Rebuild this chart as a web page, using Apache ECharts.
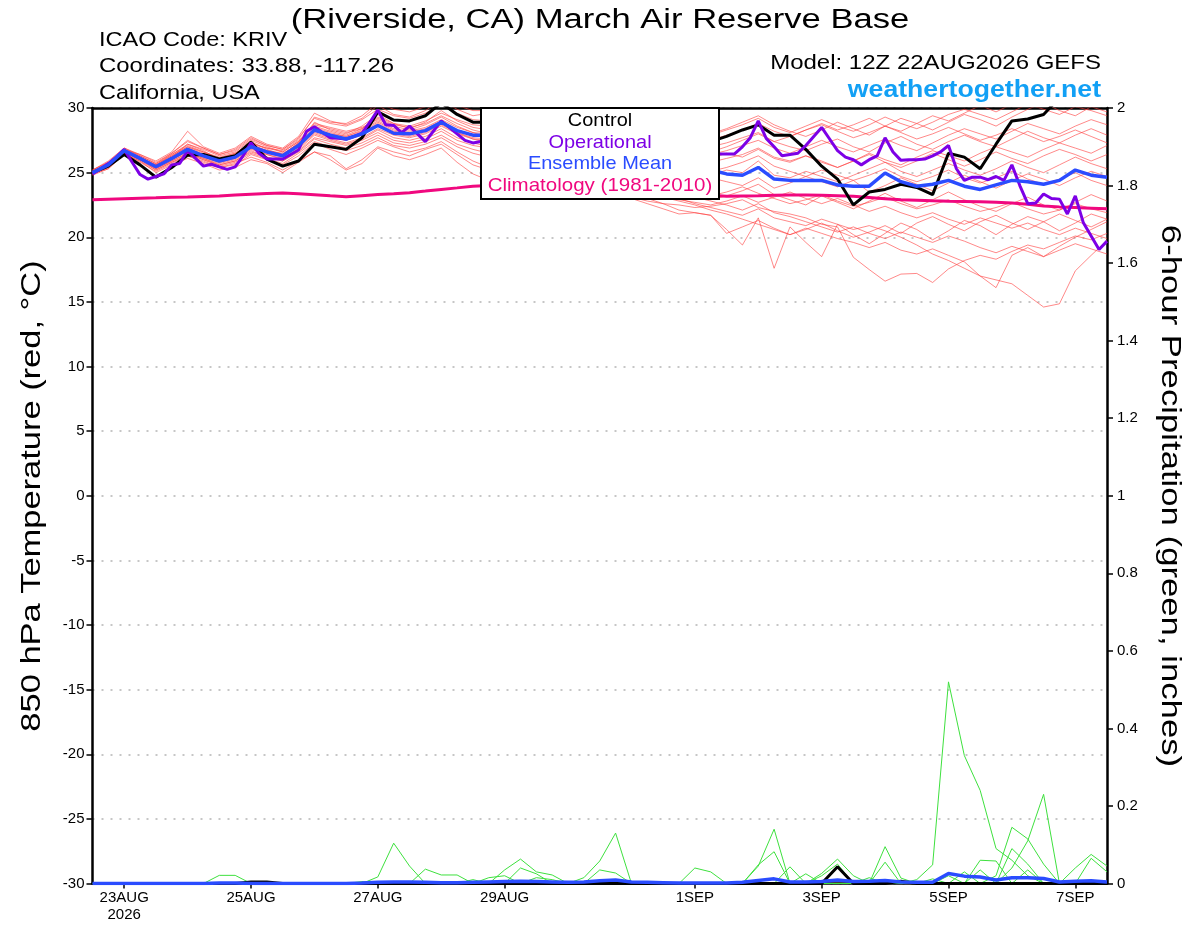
<!DOCTYPE html>
<html>
<head>
<meta charset="utf-8">
<script src="https://cdn.jsdelivr.net/npm/echarts@6/dist/echarts.min.js"></script>
<style>
html,body{margin:0;padding:0;background:#fff;}
#chart{width:1200px;height:927px;}
</style>
</head>
<body>
<div id="chart"></div>
<script>
// ---------------- DATA ----------------
// 6-hourly steps from 12Z 22AUG2026 to 12Z 07SEP2026 (65 points)
const tickIndex = [2, 10, 18, 26, 38, 46, 54, 62];
const tickText = ['23AUG\n2026', '25AUG', '27AUG', '29AUG', '1SEP', '3SEP', '5SEP', '7SEP'];

const controlTemp = [25.0,25.5,26.4,25.6,24.65,25.4,26.35,26.4,26.05,26.3,
  27.35,26.05,25.5,25.9,27.2,27.0,26.8,27.7,29.7,29.07,
  29.0,29.4,30.4,29.5,28.9,28.9,29.2,29.6,29.9,29.5,
  29.0,28.6,28.9,29.3,28.8,28.4,28.0,27.8,27.5,27.4,
  27.8,28.3,28.7,27.9,27.9,26.8,25.5,24.5,22.5,23.5,
  23.7,24.1,23.85,23.3,26.5,26.2,25.3,27.2,29.0,29.15,
  29.5,30.8,31.2,31.5,31.8];

const meanTemp = [25.0,25.6,26.7,26.1,25.45,26.1,26.8,26.3,25.9,26.2,
  27.0,26.6,26.3,27.1,28.3,27.9,27.6,28.0,28.65,28.05,
  28.0,28.25,28.9,28.25,27.9,27.9,28.0,28.1,27.9,27.7,
  27.5,27.3,27.2,27.0,26.7,26.4,26.1,25.8,25.5,25.2,
  24.9,24.8,25.4,24.5,24.4,24.4,24.4,24.05,23.95,23.95,
  24.97,24.3,23.95,24.1,24.4,23.95,23.7,24.05,24.4,24.3,
  24.1,24.4,25.2,24.8,24.65];

const climoTemp = [22.9,22.94,22.98,23.02,23.05,23.09,23.12,23.16,23.2,23.26,
  23.32,23.38,23.43,23.36,23.29,23.21,23.14,23.22,23.3,23.37,
  23.45,23.57,23.7,23.82,23.95,24.0,24.05,24.1,24.1,24.08,
  24.05,24.0,23.95,23.88,23.8,23.7,23.6,23.48,23.36,23.24,
  23.18,23.2,23.22,23.25,23.27,23.26,23.24,23.22,23.18,23.08,
  22.98,22.9,22.86,22.82,22.79,22.77,22.75,22.7,22.65,22.55,
  22.42,22.35,22.3,22.25,22.2];

// Operational run is 3-hourly (129 points)
const operTemp = [24.9,25.3,25.7,26.2,26.8,25.8,24.85,24.5,24.7,24.9,
  25.6,25.7,26.7,26.1,25.5,25.65,25.45,25.25,25.45,26.3,
  27.3,26.5,26.05,26.05,26.05,26.4,26.75,28.2,28.55,28.1,
  27.7,27.65,27.6,27.8,28.05,28.9,29.85,28.7,28.65,28.1,
  28.6,28.0,27.4,28.2,29.0,28.5,28.0,27.5,27.3,27.4,
  27.6,27.9,28.3,28.0,27.6,27.2,27.5,28.0,28.4,28.1,
  27.7,27.3,27.0,27.4,27.9,28.2,27.8,27.4,27.1,26.8,
  27.2,27.6,27.3,26.9,26.6,26.9,27.2,26.8,26.5,26.45,
  26.45,26.45,27.0,27.7,29.0,27.65,27.0,26.3,26.4,26.5,
  27.1,27.8,28.5,27.6,26.7,26.2,26.0,25.6,26.0,26.3,
  27.7,26.6,25.95,26.0,26.0,26.05,26.3,26.6,27.1,25.3,
  24.4,24.65,24.65,24.45,24.7,24.4,25.6,24.0,22.6,22.65,
  23.35,23.0,22.95,21.8,23.2,21.15,20.1,19.05,19.7];

const memberTemps = [
 [25.2,25.8,26.8,26.4,25.9,26.6,28.2,27.0,26.5,26.9,27.8,27.2,26.9,27.8, 29.6,29.0,28.7,29.2,30.2,29.5,29.3,29.8,30.6,29.9,29.4,29.6, 29.9,30.3,29.8,29.4,29.0,28.7,28.9,28.5,28.1,27.8,27.5,27.9,28.3,28.0, 28.4,28.9,29.4,28.7,28.2,27.8,28.3,28.9,28.4,27.9,28.6,29.2,28.8,28.3,28.9,29.5,29.1,28.6,29.3,29.9,30.4,29.8,29.4,30.1,29.7],
 [25.0,25.5,26.6,26.0,25.3,25.9,26.5,26.1,25.6,25.9,26.7,26.2,25.9,26.6, 27.6,27.2,26.9,27.3,27.9,27.3,27.1,27.4,27.9,27.2,26.8,26.5, 26.3,26.0,25.6,25.2,24.8,24.3,23.9,23.5,23.0,22.6,22.2,21.8,21.9,21.7, 20.6,19.4,21.5,17.6,20.8,19.6,18.5,21.0,20.2,19.5,20.3,21.1,20.6,19.8,20.5,21.3,20.9,20.2,21.0,21.6,21.2,20.5,21.1,21.8,21.4],
 [24.9,25.4,26.5,25.8,25.1,25.7,26.3,25.8,25.4,25.6,26.4,26.0,25.6,26.3, 27.3,26.8,26.4,26.9,27.5,27.0,26.6,26.9,27.4,26.6,25.9,25.4, 25.1,24.8,24.5,24.3,24.0,23.8,23.5,23.3,23.1,22.8,22.6,22.5,22.3,22.4, 22.6,22.9,22.3,22.0,21.8,21.5,21.0,20.8,18.45,17.5,16.6,17.15,17.2,16.5,17.55,18.2,18.6,18.3,18.9,19.4,19.1,19.6,20.1,19.8,20.3],
 [25.1,25.7,26.7,26.2,25.6,26.3,27.0,26.6,26.1,26.5,27.3,26.9,26.6,27.4, 28.6,28.2,27.9,28.4,29.2,28.7,28.5,28.8,29.4,28.8,28.3,28.0, 27.8,27.5,27.0,26.6,26.1,25.7,25.2,24.8,24.3,23.9,23.4,23.0,22.6,22.3, 22.0,21.7,22.2,21.5,21.2,20.9,21.4,21.0,20.6,20.9,20.5,20.0,19.4,18.7,18.2,17.6,17.0,16.7,16.4,15.5,14.6,14.85,17.4,18.6,19.75],
 [24.8,25.3,26.5,25.9,25.0,25.6,26.1,25.7,25.2,25.4,26.0,25.7,25.0,25.8, 26.6,26.3,25.3,26.0,27.0,26.6,26.3,26.8,27.2,26.4,25.6,25.2, 25.4,25.7,25.3,25.0,25.2,24.8,24.5,24.1,23.8,23.4,23.1,22.8,22.5,22.1, 21.8,21.4,21.0,20.6,20.2,20.7,20.3,19.9,19.6,19.2,19.6,19.0,18.7,19.1,18.6,18.1,17.0,16.1,18.6,19.2,18.5,19.3,20.0,20.6,21.2],
 [25.0,25.6,26.8,26.2,25.5,26.2,27.2,26.7,26.0,26.4,27.4,26.8,26.4,27.3, 28.9,28.3,28.0,28.6,29.5,28.8,28.4,28.9,29.8,29.0,28.5,28.3, 28.6,28.9,28.4,28.0,27.7,27.9,28.2,27.8,27.4,27.1,27.4,27.7,27.3,27.0, 27.3,27.7,28.1,27.4,27.0,26.7,27.2,27.6,27.0,26.6,27.3,27.8,27.2,26.8,27.4,27.9,27.4,27.0,27.6,28.2,27.7,27.3,27.9,28.4,27.9],
 [25.1,25.7,26.6,26.1,25.6,26.4,27.1,26.6,26.2,26.5,27.2,26.9,26.7,27.5, 28.8,28.5,28.2,28.5,29.1,28.6,28.3,28.7,29.3,28.6,28.1,27.7, 27.5,27.9,28.3,27.9,27.6,27.2,27.0,26.8,26.5,26.3,26.0,26.4,26.9,26.6, 27.0,27.5,28.0,27.4,27.8,28.3,28.8,28.3,28.7,29.2,28.6,28.2,28.8,29.4,29.0,29.6,30.2,29.7,30.3,30.9,30.5,30.1,30.7,31.2,30.8],
 [24.9,25.3,26.4,25.9,25.2,25.8,26.3,25.9,25.4,25.7,26.2,25.8,25.2,25.9, 26.6,26.0,25.2,25.7,26.9,26.3,26.0,26.4,26.9,25.8,24.9,24.4, 24.6,25.0,24.8,24.5,24.2,24.5,24.8,24.4,24.1,23.8,23.5,23.8,23.4,23.2, 23.5,23.9,23.4,23.0,22.6,22.9,23.3,22.8,22.4,22.7,23.1,22.6,22.2,22.5,22.9,22.4,22.0,22.3,22.7,22.2,21.8,22.1,22.6,22.2,21.9],
 [25.0,25.6,26.6,26.0,25.4,26.0,26.7,26.2,25.8,26.1,26.9,26.4,26.1,26.9, 28.0,27.6,27.3,27.7,28.4,27.9,27.7,28.0,28.6,28.0,27.6,27.5, 27.6,27.4,27.0,26.7,26.4,26.1,25.9,25.6,25.4,25.2,25.0,24.8,24.6,24.8, 25.2,25.0,25.9,24.8,24.6,25.1,24.7,24.3,24.8,25.3,25.8,25.1,24.7,25.2,25.7,25.2,24.8,25.3,25.9,25.4,25.0,25.6,26.2,25.7,25.3],
 [25.2,25.8,26.9,26.3,25.7,26.5,27.5,26.9,26.4,26.8,27.7,27.1,26.8,27.6, 29.3,28.9,28.8,29.4,30.4,29.9,29.7,30.1,30.8,30.2,29.8,29.8, 30.2,30.5,30.1,29.6,29.2,28.8,28.4,28.0,27.6,27.3,27.0,26.7,26.4,26.1, 26.5,26.2,26.8,26.1,25.8,26.3,25.9,25.4,25.9,26.5,26.0,25.6,26.2,26.7,26.3,25.9,26.5,27.0,26.6,26.2,26.8,27.3,26.9,26.5,27.1],
 [24.9,25.5,26.7,26.1,25.4,26.0,26.6,26.1,25.7,26.0,26.8,26.4,26.0,26.8, 27.9,27.5,27.2,27.6,28.3,27.7,27.5,27.8,28.4,27.7,27.3,27.0, 26.8,26.5,26.1,25.7,25.4,25.0,24.7,24.4,24.1,23.8,23.5,23.3,23.1,22.9, 23.2,23.6,24.1,23.3,22.9,22.5,23.2,22.7,22.2,22.8,23.4,22.8,22.3,22.9,23.5,22.9,22.4,22.0,22.6,23.1,22.5,22.1,22.7,23.3,22.8],
 [25.0,25.5,26.6,26.1,25.5,26.2,26.9,26.4,25.9,26.3,27.1,26.7,26.5,27.2, 28.4,28.0,27.8,28.2,28.9,28.3,28.1,28.4,29.0,28.3,27.9,27.8, 28.0,28.3,27.9,27.6,27.2,26.9,26.6,26.3,26.0,25.7,25.4,25.1,24.8,24.6, 24.3,24.0,24.6,23.8,24.2,24.7,24.3,23.9,24.4,23.5,24.0,24.6,24.1,23.6,24.2,24.8,24.3,23.8,24.4,24.9,24.5,24.0,24.6,25.1,24.7],
 [25.1,25.6,26.7,26.2,25.6,26.3,27.0,26.5,26.0,26.4,27.2,26.7,26.4,27.3, 28.5,28.1,27.8,28.3,29.0,28.4,28.2,28.5,29.1,28.5,28.1,28.0, 28.3,28.6,28.2,27.8,27.5,27.7,28.0,27.6,27.3,27.6,27.9,27.5,27.2,27.5, 27.9,28.3,28.8,28.2,27.8,28.3,28.7,28.2,27.7,28.1,28.6,28.1,27.6,28.0,28.5,28.0,27.5,27.9,28.4,27.9,27.4,27.8,28.3,27.8,27.3],
 [25.0,25.5,26.6,26.0,25.4,26.0,26.7,26.2,25.8,26.1,26.9,26.5,26.2,27.0, 28.1,27.7,27.5,27.9,28.6,28.0,27.8,28.1,28.7,28.1,27.7,27.6, 27.8,27.5,27.1,26.7,26.3,25.9,25.5,25.1,24.7,24.3,23.9,23.5,23.1,22.8, 22.5,22.1,22.6,21.9,21.6,21.2,20.8,20.4,20.8,20.3,19.9,20.4,20.0,19.6,20.1,19.7,19.2,18.8,19.3,18.9,18.5,19.0,19.5,19.1,18.7],
 [25.1,25.7,26.8,26.3,25.7,26.4,27.2,26.8,26.3,26.6,27.5,27.0,26.6,27.4, 28.7,28.4,28.1,28.4,29.3,28.8,28.6,29.0,29.6,29.1,28.7,28.6, 28.8,29.1,28.7,28.4,28.0,28.2,28.5,28.1,27.8,28.0,28.3,28.0,27.7,27.9, 28.3,28.7,29.2,28.5,28.1,28.6,29.1,28.6,28.2,28.7,29.3,28.8,28.4,28.9,29.5,29.9,29.5,29.1,29.7,30.3,29.9,29.5,30.1,29.8,29.4],
 [24.9,25.5,26.6,26.0,25.3,25.9,26.5,26.0,25.6,25.9,26.6,26.2,25.9,26.7, 27.7,27.4,27.1,27.5,28.1,27.5,27.3,27.6,28.2,27.5,27.1,26.9, 27.1,27.4,27.0,26.7,26.4,26.6,26.9,26.5,26.2,25.9,26.2,26.5,26.1,25.8, 26.1,26.4,26.9,26.2,25.9,26.3,25.8,25.4,25.9,26.4,25.8,25.4,25.9,26.5,26.0,25.5,26.0,26.6,26.1,25.7,26.3,26.8,26.4,25.9,26.4],
 [25.0,25.6,26.7,26.1,25.5,26.1,26.8,26.3,25.9,26.2,27.0,26.6,26.3,27.1, 28.2,27.8,27.6,28.0,28.6,28.1,27.9,28.2,28.8,28.1,27.6,27.3, 27.0,26.6,26.1,25.7,25.3,24.9,24.5,24.1,23.6,23.0,22.6,22.1,21.9,21.7, 20.3,20.8,21.3,20.7,20.2,20.6,21.1,20.5,20.0,20.4,20.9,20.3,21.1,21.6,21.0,20.5,21.2,21.7,21.1,20.6,21.2,21.8,21.3,20.8,21.4],
 [25.2,25.9,26.9,26.4,25.8,26.5,27.4,26.9,26.4,26.7,27.6,27.1,26.8,27.7, 29.2,28.8,28.6,29.1,29.9,29.4,29.2,29.6,30.3,29.6,29.1,29.0, 29.2,29.5,29.1,28.7,28.3,28.6,28.9,28.5,28.1,27.7,27.4,27.0,26.7,26.4, 26.7,27.1,27.5,26.9,26.5,27.0,27.5,27.0,26.6,27.1,27.6,27.1,26.7,27.3,27.9,28.4,28.0,27.6,28.2,28.8,28.4,28.0,28.6,29.1,28.7],
 [24.9,25.4,26.5,26.0,25.2,25.8,26.4,26.0,25.5,25.8,26.5,26.1,25.7,26.5, 27.4,27.0,26.7,27.1,27.7,27.1,26.9,27.2,27.7,27.0,26.5,26.2, 26.0,25.7,25.3,25.0,24.7,24.4,24.1,23.8,23.5,23.3,23.1,22.9,22.7,22.5, 22.8,23.2,22.7,23.1,23.5,23.0,22.6,23.0,22.5,22.0,22.4,21.9,21.5,21.9,21.4,21.0,21.5,21.1,20.7,21.1,20.6,20.2,20.7,20.3,19.9],
 [25.1,25.7,26.7,26.2,25.5,26.2,26.9,26.4,26.0,26.3,27.1,26.7,26.4,27.2, 28.3,27.9,27.7,28.1,28.8,28.2,28.0,28.3,28.9,28.3,27.9,27.8, 27.9,27.7,27.4,27.1,26.8,26.5,26.2,25.9,25.6,25.4,25.2,25.0,24.9,25.1, 25.4,25.8,26.3,25.5,25.1,24.7,25.2,24.8,24.4,24.8,25.3,24.7,24.3,24.7,25.2,24.6,24.2,24.6,25.1,24.5,24.1,24.5,25.0,24.4,24.0]
];

// 6-hour precipitation (inches): [step index, amount] for steps with rain, zero elsewhere
const controlPrecipRain = [[10,0.004],[11,0.004],[47,0.043],[51,0.006]];
const meanPrecip = [0,0,0,0,0,0,0,0,0.001,0.001,
  0,0,0,0,0,0,0,0.001,0.003,0.004,
  0.004,0.003,0.002,0.002,0.003,0.004,0.005,0.006,0.005,0.004,
  0.003,0.004,0.007,0.009,0.004,0.003,0.002,0.001,0.001,0.001,
  0.001,0.003,0.008,0.012,0.004,0.004,0.005,0.009,0.005,0.006,
  0.008,0.004,0.003,0.003,0.026,0.019,0.017,0.009,0.015,0.015,
  0.013,0.004,0.006,0.007,0.004];
const memberPrecipRain = [
 [[38,0.04],[39,0.03],[52,0.01],[53,0.048],[54,0.52],[55,0.33],[56,0.24],[57,0.09],[58,0.06],[59,0.02]],
 [[42,0.045],[43,0.14],[57,0.02],[58,0.145],[59,0.115],[60,0.05]],
 [[58,0.09],[59,0.05],[62,0.04],[63,0.075],[64,0.045]],
 [[58,0.04],[59,0.11],[60,0.23],[63,0.065],[64,0.03]],
 [[18,0.017],[19,0.104],[20,0.045],[26,0.035],[27,0.063],[28,0.03],[29,0.022],[31,0.015],[32,0.058],[33,0.13]],
 [[8,0.021],[9,0.021],[21,0.037],[22,0.022],[23,0.022],[27,0.04],[28,0.025],[44,0.043],[46,0.026],[47,0.063],[48,0.02],[50,0.095],[51,0.014]],
 [[42,0.048],[43,0.082],[46,0.02],[47,0.05],[50,0.055],[54,0.02],[56,0.06],[57,0.058]],
 [[25,0.015],[26,0.02],[32,0.035],[33,0.027],[45,0.025],[53,0.012],[56,0.035]],
 [[17,0.005],[24,0.01],[28,0.015],[29,0.01],[49,0.015],[55,0.03],[59,0.035]]
];

// ---------------- BUILD ----------------
const FONT = '"Liberation Sans", Arial, Helvetica, sans-serif';
const N6 = controlTemp.length;
const N3 = operTemp.length;
const cat6 = []; for (let i = 0; i < N6; i++) cat6.push(String(i * 6));
const cat3 = []; for (let i = 0; i < N3; i++) cat3.push(String(i * 3));
function rainSeries(pairs) {
  const a = new Array(N6).fill(0);
  pairs.forEach(p => { a[p[0]] = p[1]; });
  return a;
}
const tickSet = {}; tickIndex.forEach((t, k) => { tickSet[t] = tickText[k]; });

const series = [];
const base = { type: 'line', showSymbol: false, symbol: 'none', silent: true, animation: false, emphasis: { disabled: true } };
memberTemps.forEach((d, k) => series.push(Object.assign({}, base, {
  name: 'Member ' + (k + 1), xAxisIndex: 0, yAxisIndex: 0, data: d,
  lineStyle: { color: '#ff4040', width: 1, opacity: 0.62 }
})));
memberPrecipRain.forEach((p, k) => series.push(Object.assign({}, base, {
  name: 'Member precip ' + (k + 1), xAxisIndex: 0, yAxisIndex: 1, data: rainSeries(p),
  lineStyle: { color: '#3ee03e', width: 1 }
})));
series.push(Object.assign({}, base, { name: 'Climatology (1981-2010)', xAxisIndex: 0, yAxisIndex: 0, data: climoTemp, lineStyle: { color: '#f0087f', width: 3 } }));
series.push(Object.assign({}, base, { name: 'Control', xAxisIndex: 0, yAxisIndex: 0, data: controlTemp, lineStyle: { color: '#000000', width: 3 } }));
series.push(Object.assign({}, base, { name: 'Control precip', xAxisIndex: 0, yAxisIndex: 1, data: rainSeries(controlPrecipRain), lineStyle: { color: '#000000', width: 3 } }));
series.push(Object.assign({}, base, { name: 'Operational', xAxisIndex: 1, yAxisIndex: 0, data: operTemp, lineStyle: { color: '#7d00e6', width: 3 } }));
series.push(Object.assign({}, base, { name: 'Ensemble Mean', xAxisIndex: 0, yAxisIndex: 0, data: meanTemp, lineStyle: { color: '#2a4cff', width: 3.5 } }));
series.push(Object.assign({}, base, { name: 'Ensemble Mean precip', xAxisIndex: 0, yAxisIndex: 1, data: meanPrecip, lineStyle: { color: '#2a4cff', width: 3.5 } }));

function txt(x, y, text, opt) {
  return {
    type: 'text', x: x, y: y, scaleX: opt.scaleX || 1, rotation: opt.rotation || 0, z: 100,
    style: {
      text: text, fontSize: opt.fontSize, fontFamily: FONT, fontWeight: opt.fontWeight || 'normal',
      fill: opt.fill || '#000', align: opt.align || 'left', verticalAlign: 'middle',
      textAlign: opt.align || 'left', textVerticalAlign: 'middle'
    }
  };
}

const option = {
  animation: false,
  backgroundColor: '#ffffff',
  textStyle: { fontFamily: FONT },
  grid: { left: 92.5, right: 93, top: 108, bottom: 43.5, show: false },
  xAxis: [
    {
      type: 'category', data: cat6, boundaryGap: false, gridIndex: 0, position: 'bottom',
      axisLine: { show: true, onZero: false, lineStyle: { color: '#000', width: 2.5 } },
      axisTick: { show: true, length: 5, interval: (i) => tickSet[i] !== undefined, lineStyle: { color: '#000', width: 1.5 } },
      axisLabel: { show: true, interval: (i) => tickSet[i] !== undefined, formatter: (v, i) => tickSet[i] || '', color: '#000', fontSize: 15, margin: 6, lineHeight: 17, fontFamily: FONT },
      splitLine: { show: false }
    },
    {
      type: 'category', data: cat3, boundaryGap: false, gridIndex: 0, position: 'top',
      axisLine: { show: true, onZero: false, lineStyle: { color: '#000', width: 2.5 } },
      axisTick: { show: false }, axisLabel: { show: false }, splitLine: { show: false }
    }
  ],
  yAxis: [
    {
      type: 'value', position: 'left', min: -30, max: 30, interval: 5,
      axisLine: { show: true, onZero: false, lineStyle: { color: '#000', width: 2.5 } },
      axisTick: { show: true, length: 6, lineStyle: { color: '#000', width: 1.5 } },
      axisLabel: { color: '#000', fontSize: 15, margin: 8, fontFamily: FONT },
      splitLine: { show: true, lineStyle: { color: '#b4b4b4', width: 1.5, type: [2, 7] } }
    },
    {
      type: 'value', position: 'right', min: 0, max: 2, interval: 0.2,
      axisLine: { show: true, onZero: false, lineStyle: { color: '#000', width: 2.5 } },
      axisTick: { show: true, length: 6, lineStyle: { color: '#000', width: 1.5 } },
      axisLabel: { color: '#000', fontSize: 15, margin: 10, fontFamily: FONT },
      splitLine: { show: false }
    }
  ],
  graphic: [
    txt(600, 21, '(Riverside, CA) March Air Reserve Base', { fontSize: 27, scaleX: 1.28, align: 'center' }),
    txt(99, 40, 'ICAO Code: KRIV', { fontSize: 21, scaleX: 1.12 }),
    txt(99, 66.5, 'Coordinates: 33.88, -117.26', { fontSize: 21, scaleX: 1.14 }),
    txt(99, 93, 'California, USA', { fontSize: 21, scaleX: 1.12 }),
    txt(1101, 63.5, 'Model: 12Z 22AUG2026 GEFS', { fontSize: 20, scaleX: 1.2, align: 'right' }),
    txt(1101, 90, 'weathertogether.net', { fontSize: 24, scaleX: 1.11, align: 'right', fontWeight: 'bold', fill: '#12a0f5' }),
    txt(32, 496, '850 hPa Temperature (red, °C)', { fontSize: 28, scaleX: 1.23, align: 'center', rotation: Math.PI / 2 }),
    txt(1170, 496, '6-hour Precipitation (green, inches)', { fontSize: 28, scaleX: 1.24, align: 'center', rotation: -Math.PI / 2 }),
    {
      type: 'rect', z: 100, shape: { x: 481, y: 108, width: 238, height: 91 },
      style: { fill: '#ffffff', stroke: '#000000', lineWidth: 2 }
    },
    txt(600, 121, 'Control', { fontSize: 19, scaleX: 1.05, align: 'center', fill: '#000000' }),
    txt(600, 142.5, 'Operational', { fontSize: 19, scaleX: 1.05, align: 'center', fill: '#7d00e6' }),
    txt(600, 164, 'Ensemble Mean', { fontSize: 19, scaleX: 1.05, align: 'center', fill: '#2a4cff' }),
    txt(600, 185.5, 'Climatology (1981-2010)', { fontSize: 19, scaleX: 1.08, align: 'center', fill: '#f0087f' })
  ],
  series: series
};

const chart = echarts.init(document.getElementById('chart'), null, { renderer: 'canvas' });
chart.setOption(option);
</script>
</body>
</html>
